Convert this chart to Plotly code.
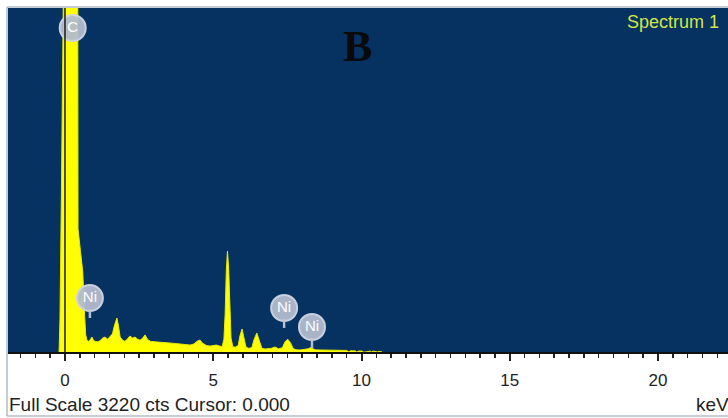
import plotly.graph_objects as go

# ---- data ----
energy_kev = [
    -0.20, -0.17, -0.12, -0.05, 0.00, 0.10, 0.20, 0.30, 0.40, 0.42, 0.44, 0.52, 0.60, 0.66, 0.70, 0.74,
    0.80, 0.86, 0.91, 0.96, 1.01, 1.10, 1.18, 1.27, 1.35, 1.44, 1.52, 1.60, 1.66, 1.71, 1.75, 1.80,
    1.86, 1.95, 2.02, 2.10, 2.19, 2.28, 2.36, 2.45, 2.53, 2.62, 2.70, 2.78, 2.87, 3.05, 3.20, 3.40,
    3.54, 3.70, 3.88, 4.05, 4.22, 4.35, 4.45, 4.55, 4.65, 4.78, 4.89, 4.99, 5.10, 5.22, 5.30, 5.36,
    5.40, 5.44, 5.48, 5.52, 5.56, 5.60, 5.66, 5.74, 5.84, 5.90, 5.97, 6.04, 6.10, 6.18, 6.30, 6.38,
    6.47, 6.55, 6.64, 6.75, 6.85, 6.97, 7.08, 7.20, 7.33, 7.42, 7.51, 7.60, 7.70, 7.82, 7.93, 8.10,
    8.20, 8.28, 8.36, 8.45, 8.60, 8.90, 9.20, 9.50, 9.58, 9.62, 9.80, 9.84, 9.90, 10.02, 10.06, 10.12,
    10.30, 10.34, 10.40, 10.55, 10.58, 10.62, 10.70,
]
counts = [
    0, 300, 1500, 3500, 9000, 9000, 9000, 9000, 9000, 6000, 1150, 950, 750, 350, 160, 110,
    100, 120, 140, 110, 100, 95, 105, 130, 140, 120, 150, 170, 240, 300, 318, 250,
    140, 110, 100, 120, 150, 130, 140, 120, 110, 130, 160, 120, 100, 95, 90, 85,
    84, 80, 75, 70, 65, 75, 100, 112, 80, 60, 55, 60, 65, 55, 50, 120,
    350, 760, 945, 780, 380, 130, 50, 45, 60, 150, 215, 140, 50, 35, 40, 120,
    178, 110, 35, 28, 30, 35, 47, 30, 40, 95, 120, 90, 30, 20, 19, 22,
    30, 40, 30, 20, 19, 18, 17, 15, 0, 12, 10, 0, 9, 9, 0, 0,
    8, 0, 8, 0, 6, 6, 0,
]

x_ticks = [0, 5, 10, 15, 20]
x_tick_labels = ["0", "5", "10", "15", "20"]
full_scale_cts = 3220
cursor_kev = 0.0

badge_labels = ["C", "Ni", "Ni", "Ni"]
badge_kev = [0.26, 0.84, 7.39, 8.33]
badge_cts = [3033, 505, 412, 234]
stem_top_cts = [2950, 402, 309, 131]
stem_bottom_cts = [2950, 318, 225, 37]

BLUE = "#063262"
FONT = "Liberation Sans, Arial"

fig = go.Figure()

fig.add_trace(go.Scatter(
    x=energy_kev, y=counts, mode="lines", fill="tozeroy",
    fillcolor="#ffff00", line=dict(color="#e8e800", width=1),
    hoverinfo="skip", showlegend=False,
))

# badges
fig.add_trace(go.Scatter(
    x=badge_kev, y=badge_cts, mode="markers+text", text=badge_labels,
    textposition="middle center",
    textfont=dict(family=FONT, size=15, color="white"),
    marker=dict(symbol="circle", size=26, color="rgba(178,188,205,0.95)",
                line=dict(color="rgba(205,212,225,0.95)", width=2)),
    cliponaxis=False, hoverinfo="skip", showlegend=False,
))

shapes = []
# cursor line
shapes.append(dict(type="line", xref="x", yref="y domain", x0=cursor_kev, x1=cursor_kev,
                   y0=0, y1=1, line=dict(color="#1a1a1a", width=1.5), layer="above"))
for i in range(1, len(badge_kev)):
    shapes.append(dict(type="line", xref="x", yref="y", x0=badge_kev[i], x1=badge_kev[i],
                       y0=stem_bottom_cts[i], y1=stem_top_cts[i],
                       line=dict(color="rgba(190,198,212,0.95)", width=2.5)))
# outer frame
shapes.append(dict(type="rect", xref="paper", yref="paper", x0=7/728, x1=1.01,
                   y0=2/418, y1=1-7/418, line=dict(color="#8c9aae", width=1), layer="below"))

fig.update_layout(
    width=728, height=418,
    margin=dict(l=0, r=0, t=0, b=0),
    paper_bgcolor="white",
    plot_bgcolor=BLUE,
    shapes=shapes,
    xaxis=dict(
        domain=[8/728, 1], range=[-1.922, 22.36],
        tickvals=x_ticks, ticktext=x_tick_labels,
        ticks="outside", ticklen=7, tickwidth=2, tickcolor="#222",
        minor=dict(dtick=0.5, ticks="outside", ticklen=4, tickwidth=1.5, tickcolor="#222", showgrid=False),
        showgrid=False, zeroline=False,
        showline=True, linecolor="#111", linewidth=2,
        tickfont=dict(family=FONT, size=17, color="#222"),
        ticklabelstandoff=5,
    ),
    yaxis=dict(
        domain=[66/418, 1-8/418], range=[0, full_scale_cts],
        visible=False, showgrid=False, zeroline=False,
    ),
    annotations=[
        dict(text="Full Scale %d cts Cursor: %.3f" % (full_scale_cts, cursor_kev),
             xref="paper", yref="paper", x=7/728, y=1-404/418,
             xanchor="left", yanchor="middle", showarrow=False,
             font=dict(family=FONT, size=19, color="#222")),
        dict(text="keV", xref="paper", yref="paper", x=731/728, y=1-404/418,
             xanchor="right", yanchor="middle", showarrow=False,
             font=dict(family=FONT, size=19, color="#222")),
        dict(text="Spectrum 1", xref="paper", yref="paper", x=721/728, y=1-22/418,
             xanchor="right", yanchor="middle", showarrow=False,
             font=dict(family=FONT, size=18, color="#d2e448")),
        dict(text="<b>B</b>", xref="paper", yref="paper", x=357/728, y=1-47/418,
             xanchor="center", yanchor="middle", showarrow=False,
             font=dict(family="Liberation Serif, Times New Roman", size=44, color="#0a0a0a")),
    ],
)

fig.write_html(
    "out.html",
    config={"displayModeBar": False, "staticPlot": True},
    post_script="document.body.style.margin='0';document.body.style.overflow='hidden';",
)
